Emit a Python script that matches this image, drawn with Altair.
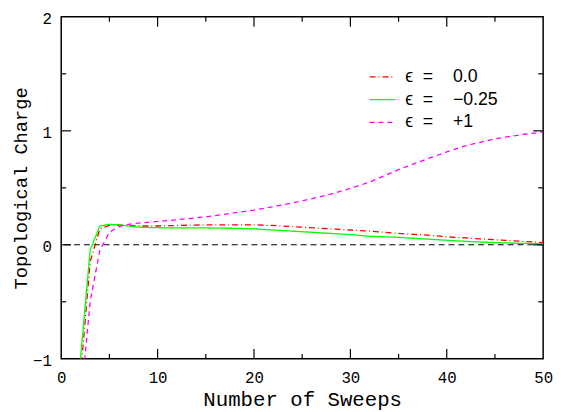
import altair as alt
import pandas as pd

# ---- data ----
sweeps_a = [2, 3, 4, 5, 6, 7, 8, 10, 12, 15, 18, 20, 22, 25, 28, 30, 32, 35, 38, 40, 42, 45, 48, 50]
q_eps0 = [-1.15, -0.15, 0.14, 0.17, 0.175, 0.17, 0.165, 0.165, 0.17, 0.175, 0.175, 0.175, 0.17,
          0.155, 0.14, 0.13, 0.12, 0.10, 0.085, 0.07, 0.06, 0.045, 0.03, 0.02]
q_eps_m025 = [-1.0, -0.05, 0.165, 0.18, 0.175, 0.165, 0.155, 0.15, 0.148, 0.148, 0.145, 0.14, 0.13,
              0.115, 0.10, 0.09, 0.075, 0.065, 0.05, 0.04, 0.03, 0.02, 0.012, 0.01]
q_eps_p1 = [-1.4, -0.5, -0.05, 0.11, 0.16, 0.18, 0.19, 0.205, 0.22, 0.245, 0.28, 0.305, 0.335,
            0.385, 0.445, 0.495, 0.55, 0.66, 0.755, 0.815, 0.87, 0.93, 0.97, 0.99]

NB = "\u00a0"
series_labels = [
    "\u03f5" + NB * 2 + "=" + NB * 4 + "0.0",
    "\u03f5" + NB * 2 + "=" + NB * 4 + "\u22120.25",
    "\u03f5" + NB * 2 + "=" + NB * 4 + "+1",
]
series_colors = ["#ff0000", "#00ff00", "#ff00ff"]
series_dashes = [[6, 3, 1, 3], [1, 0], [5, 4]]

x_major = [10, 20, 30, 40]
x_minor = [5, 15, 25, 35, 45]
y_major = [0, 1]
y_minor = [-0.5, 0.5, 1.5]
x_labels = [0, 10, 20, 30, 40, 50]
y_labels = [-1, 0, 1, 2]

W, H = 489, 347

rows = []
for lab, ys in zip(series_labels, [q_eps0, q_eps_m025, q_eps_p1]):
    for s, q in zip(sweeps_a, ys):
        rows.append({"sweeps": s, "charge": q, "series": lab})
df = pd.DataFrame(rows)

xscale = alt.Scale(domain=[0, 50], nice=False, zero=False)
yscale = alt.Scale(domain=[-1, 2], nice=False, zero=False)

lines = alt.Chart(df).mark_line(strokeWidth=1.3, clip=True).encode(
    x=alt.X("sweeps:Q", scale=xscale,
            axis=alt.Axis(title="Number of Sweeps", values=x_labels, ticks=False, domain=False,
                          grid=False, labelFlush=False, labelPadding=11, titlePadding=3,
                          titleFontSize=21, format="d")),
    y=alt.Y("charge:Q", scale=yscale,
            axis=alt.Axis(title="Topological Charge", values=y_labels, ticks=False, domain=False,
                          grid=False, labelPadding=10, labelOffset=2, titlePadding=2,
                          titleFontSize=19, format="d",
                          labelExpr="datum.value < 0 ? '\u2212' + abs(datum.value) : '' + datum.value")),
    color=alt.Color("series:N", sort=series_labels,
                    scale=alt.Scale(domain=series_labels, range=series_colors),
                    legend=alt.Legend(title=None, orient="none", legendX=312, legendY=47,
                                      symbolType="stroke", symbolSize=676, symbolStrokeWidth=1.3,
                                      labelFont="Liberation Sans", labelFontSize=18,
                                      labelColor="black", rowPadding=0, labelOffset=9,
                                      labelLimit=300)),
    strokeDash=alt.StrokeDash("series:N", sort=series_labels,
                              scale=alt.Scale(domain=series_labels, range=series_dashes),
                              legend=alt.Legend(title=None)),
    order=alt.Order("sweeps:Q"),
)

zero_line = alt.Chart(pd.DataFrame({"y": [0]})).mark_rule(
    color="black", strokeDash=[6, 4], strokeWidth=1.1
).encode(y=alt.Y("y:Q", scale=yscale))

def xticks(vals, length):
    d = pd.DataFrame({"v": vals})
    bot = alt.Chart(d).mark_rule(color="black", strokeWidth=1.2).encode(
        x=alt.X("v:Q", scale=xscale), y=alt.value(H), y2=alt.value(H - length))
    top = alt.Chart(d).mark_rule(color="black", strokeWidth=1.2).encode(
        x=alt.X("v:Q", scale=xscale), y=alt.value(0), y2=alt.value(length))
    return [bot, top]

def yticks(vals, length):
    d = pd.DataFrame({"v": vals})
    left = alt.Chart(d).mark_rule(color="black", strokeWidth=1.2).encode(
        y=alt.Y("v:Q", scale=yscale), x=alt.value(0), x2=alt.value(length))
    right = alt.Chart(d).mark_rule(color="black", strokeWidth=1.2).encode(
        y=alt.Y("v:Q", scale=yscale), x=alt.value(W), x2=alt.value(W - length))
    return [left, right]

layers = [zero_line, lines] + xticks(x_major, 10) + xticks(x_minor, 5) + yticks(y_major, 10) + yticks(y_minor, 5)

chart = alt.layer(*layers).properties(
    width=W, height=H,
    autosize=alt.AutoSizeParams(type="none"),
    padding={"left": 54, "top": 6, "right": 10, "bottom": 51},
).configure(
    background="white"
).configure_view(
    stroke="black", strokeWidth=1.5
).configure_axis(
    labelFont="Liberation Mono", labelFontSize=16, labelColor="black",
    titleFont="Liberation Mono", titleFontWeight="normal", titleColor="black",
)

chart.save("out.html", embed_options={"renderer": "svg", "actions": False})
